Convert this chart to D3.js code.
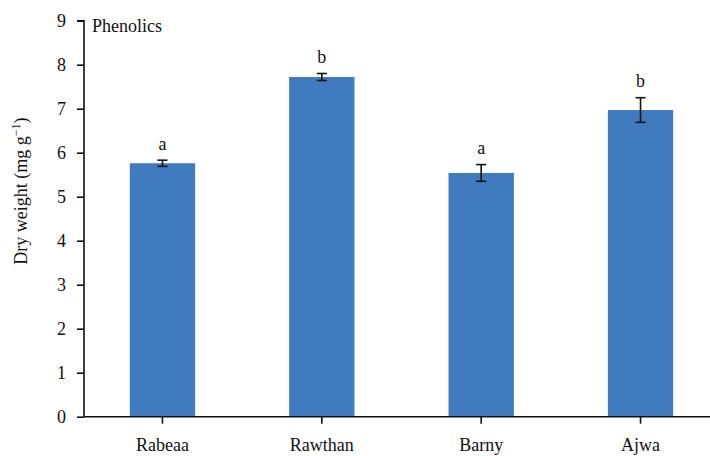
<!DOCTYPE html>
<html>
<head>
<meta charset="utf-8">
<script src="https://cdn.jsdelivr.net/npm/d3@7"></script>
<style>
  html, body { margin: 0; padding: 0; background: #fff; }
  svg { display: block; }
  text { font-family: "Liberation Serif", "Times New Roman", serif; fill: #111; }
</style>
</head>
<body>
<svg id="chart" width="710" height="456"></svg>
<script>
// Phenolic content per cultivar (mean ± error) with significance letters
const cultivars = ["Rabeaa", "Rawthan", "Barny", "Ajwa"];
const means = [5.76, 7.72, 5.54, 6.97];
const errors = [0.07, 0.08, 0.19, 0.28];
const letters = ["a", "b", "a", "b"];
const yTicks = [0, 1, 2, 3, 4, 5, 6, 7, 8, 9];

const svg = d3.select("#chart");
const plotLeft = 84, plotRight = 723, plotTop = 20.7, plotBottom = 416.7;
const fs = 18;

const x = d3.scaleBand()
  .domain(cultivars)
  .range([plotLeft - 2, plotRight - 2])
  .paddingInner(0.59)
  .paddingOuter(0.3);

const y = d3.scaleLinear()
  .domain([0, 9])
  .range([plotBottom, plotTop]);

// bars
svg.append("g")
  .selectAll("rect")
  .data(cultivars)
  .join("rect")
  .attr("x", d => x(d))
  .attr("width", x.bandwidth())
  .attr("y", (d, i) => y(means[i]))
  .attr("height", (d, i) => y(0) - y(means[i]))
  .attr("fill", "#3F7BBE");

// error bars
const eb = svg.append("g").attr("stroke", "#111").attr("stroke-width", 1.6);
cultivars.forEach((c, i) => {
  const cx = x(c) + x.bandwidth() / 2;
  const hi = y(means[i] + errors[i]), lo = y(means[i] - errors[i]);
  eb.append("line").attr("x1", cx).attr("x2", cx).attr("y1", hi).attr("y2", lo);
  eb.append("line").attr("x1", cx - 5).attr("x2", cx + 5).attr("y1", hi).attr("y2", hi);
  eb.append("line").attr("x1", cx - 5).attr("x2", cx + 5).attr("y1", lo).attr("y2", lo);
});

// significance letters
svg.append("g")
  .selectAll("text")
  .data(cultivars)
  .join("text")
  .attr("x", d => x(d) + x.bandwidth() / 2)
  .attr("y", (d, i) => y(means[i] + errors[i]) - 10.5)
  .attr("text-anchor", "middle")
  .attr("font-size", fs)
  .text((d, i) => letters[i]);

// y axis
const yAxis = svg.append("g")
  .attr("transform", `translate(${plotLeft},0)`)
  .call(d3.axisLeft(y).tickValues(yTicks).tickFormat(d3.format("d")).tickSize(7).tickPadding(11));
yAxis.select(".domain").attr("d", `M-7,${plotTop}H0V${plotBottom}`);
yAxis.selectAll("line, path").attr("stroke", "#111").attr("stroke-width", 1.6);
yAxis.selectAll("text").attr("font-size", fs).attr("fill", "#111");

// x axis
const xAxis = svg.append("g")
  .attr("transform", `translate(0,${plotBottom})`)
  .call(d3.axisBottom(x).tickSize(7).tickPadding(15));
xAxis.select(".domain").attr("d", `M${plotLeft},0H710`);
xAxis.selectAll("line, path").attr("stroke", "#111").attr("stroke-width", 1.6);
xAxis.selectAll("text").attr("font-size", fs).attr("fill", "#111");

// panel title
svg.append("text")
  .attr("x", 92).attr("y", 32)
  .attr("font-size", fs)
  .text("Phenolics");

// y axis title
const yt = svg.append("text")
  .attr("transform", "translate(27,191) rotate(-90)")
  .attr("text-anchor", "middle")
  .attr("font-size", fs);
yt.append("tspan").text("Dry weight (mg g");
yt.append("tspan").attr("font-size", 12).attr("dy", -7).text("\u22121");
yt.append("tspan").attr("dy", 7).text(")");
</script>
</body>
</html>
